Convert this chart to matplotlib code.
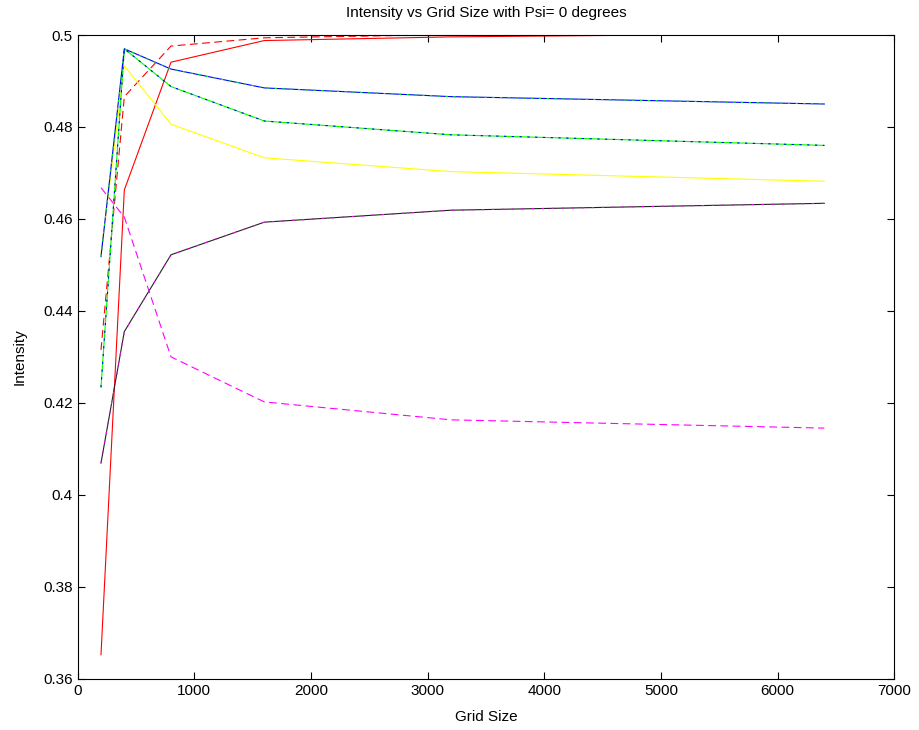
"""Intensity vs grid size at Psi = 0 degrees (MATLAB-style line chart)."""
import matplotlib
matplotlib.use("Agg")
import matplotlib.pyplot as plt
from matplotlib.ticker import FuncFormatter

grid_size = [200, 400, 800, 1600, 3200, 6400]

blue_green = [0.4518, 0.4970, 0.4926, 0.4885, 0.4866, 0.4850]
green_blue = [0.4234, 0.4970, 0.4888, 0.4813, 0.4783, 0.4760]
yellow = [0.4524, 0.4933, 0.4806, 0.4733, 0.4703, 0.4682]
black_magenta = [0.4069, 0.4355, 0.4522, 0.4593, 0.4619, 0.4634]
magenta_dash = [0.4668, 0.4604, 0.4300, 0.4202, 0.4163, 0.4145]
red_solid = [0.3652, 0.4663, 0.4941, 0.4988, 0.4996, 0.50035]
red_dash = [0.4315, 0.4866, 0.4976, 0.4994, 0.5001, 0.5003]

x_ticks = [0, 1000, 2000, 3000, 4000, 5000, 6000, 7000]
y_ticks = [0.36, 0.38, 0.40, 0.42, 0.44, 0.46, 0.48, 0.50]

plt.rcParams["font.family"] = ["Liberation Sans", "DejaVu Sans"]

fig = plt.figure(figsize=(9.19, 7.30), dpi=100)
ax = fig.add_axes([0.0845, 0.0703, 0.8886, 0.8817])

lw = 0.8
dot = (0, (2, 5))
dash = (0, (7, 4))
ax.plot(grid_size, red_dash, color="red", lw=lw, ls=dash)
ax.plot(grid_size, red_solid, color="red", lw=lw)
ax.plot(grid_size, magenta_dash, color="magenta", lw=lw, ls=dash)
ax.plot(grid_size, black_magenta, color="#222222", lw=lw)
ax.plot(grid_size, black_magenta, color="magenta", lw=lw, ls=(0, (2, 7)))
ax.plot(grid_size, yellow, color="yellow", lw=lw)
ax.plot(grid_size, green_blue, color="lime", lw=lw)
ax.plot(grid_size, green_blue, color="blue", lw=lw, ls=dot)
ax.plot(grid_size, blue_green, color="blue", lw=lw)
ax.plot(grid_size, blue_green, color="lime", lw=lw, ls=dot)

ax.set_xlim(0, 7000)
ax.set_ylim(0.36, 0.5)
ax.set_xticks(x_ticks)
ax.set_yticks(y_ticks)
ax.yaxis.set_major_formatter(FuncFormatter(lambda v, _: f"{v:.2f}".rstrip("0")))
ax.tick_params(direction="in", top=True, right=True, labelsize=11, length=5)
for s in ax.spines.values():
    s.set_linewidth(0.8)

ax.set_xlabel("Grid Size", fontsize=11, labelpad=9)
ax.set_ylabel("Intensity", fontsize=11, labelpad=12)
ax.set_title("Intensity vs Grid Size with Psi= 0 degrees", fontsize=11, pad=13)

fig.savefig("out.png", dpi=100, facecolor="white")
